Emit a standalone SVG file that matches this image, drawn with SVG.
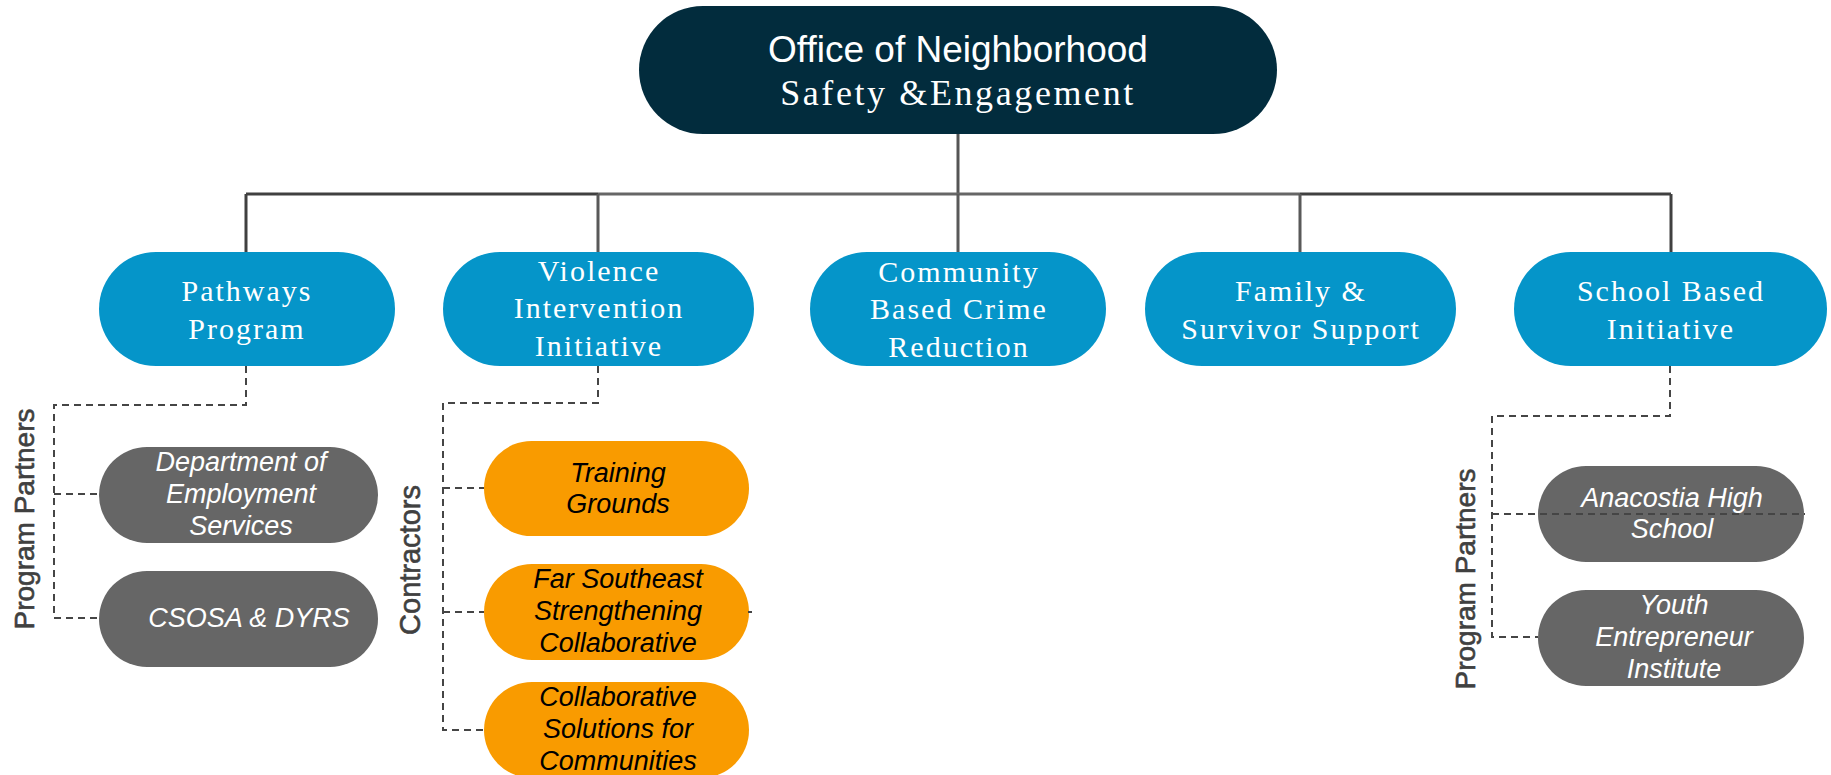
<svg xmlns="http://www.w3.org/2000/svg" width="1831" height="775" viewBox="0 0 1831 775">
<style>
.top{fill:#022C3D}
.blue{fill:#0595C9}
.gray{fill:#666666}
.orange{fill:#F99B00}
.t1{font-family:"Liberation Sans",Arial,sans-serif;font-size:37px;fill:#fff;text-anchor:middle}
.t2{font-family:"Liberation Serif","Times New Roman",serif;font-size:36px;fill:#fff;text-anchor:middle;letter-spacing:2.6px}
.bt{font-family:"Liberation Serif","Times New Roman",serif;font-size:30px;fill:#fff;text-anchor:middle;letter-spacing:2px}
.gt{font-family:"Liberation Sans",Arial,sans-serif;font-size:27px;font-style:italic;fill:#fff;text-anchor:middle}
.ot{font-family:"Liberation Sans",Arial,sans-serif;font-size:27px;font-style:italic;fill:#000;text-anchor:middle}
.lbl{font-family:"Liberation Sans",Arial,sans-serif;font-size:28px;fill:#404040;stroke:#404040;stroke-width:0.6px;text-anchor:middle}
.dash{fill:none;stroke:#454545;stroke-width:2;stroke-dasharray:7 5}
.solid{fill:none;stroke-width:3}
</style>
<rect width="1831" height="775" fill="#fff"/>

<g id="node-office">
<rect class="top" x="639" y="6" width="638" height="128" rx="64"/>
<text class="t1" x="958" y="62">Office of Neighborhood</text>
<text class="t2" x="958" y="105">Safety &amp;Engagement</text>
</g>

<g id="node-pathways">
<rect class="blue" x="99" y="252" width="296" height="114" rx="57"/>
<text class="bt" x="247" y="301">Pathways</text>
<text class="bt" x="247" y="339">Program</text>
</g>
<g id="node-violence">
<rect class="blue" x="443" y="252" width="311" height="114" rx="57"/>
<text class="bt" x="599" y="281">Violence</text>
<text class="bt" x="599" y="318">Intervention</text>
<text class="bt" x="599" y="356">Initiative</text>
</g>
<g id="node-community">
<rect class="blue" x="810" y="252" width="296" height="114" rx="57"/>
<text class="bt" x="959" y="282">Community</text>
<text class="bt" x="959" y="319">Based Crime</text>
<text class="bt" x="959" y="357">Reduction</text>
</g>
<g id="node-family">
<rect class="blue" x="1145" y="252" width="311" height="114" rx="57"/>
<text class="bt" x="1301" y="301">Family &amp;</text>
<text class="bt" x="1301" y="339">Survivor Support</text>
</g>
<g id="node-school">
<rect class="blue" x="1514" y="252" width="313" height="114" rx="57"/>
<text class="bt" x="1671" y="301">School Based</text>
<text class="bt" x="1671" y="339">Initiative</text>
</g>

<g id="label-partners-left">
<text class="lbl" transform="translate(34,519) rotate(-90)">Program Partners</text>
</g>
<g id="node-des">
<rect class="gray" x="99" y="447" width="279" height="96" rx="48"/>
<text class="gt" x="241" y="471">Department of</text>
<text class="gt" x="241" y="503">Employment</text>
<text class="gt" x="241" y="535">Services</text>
</g>
<g id="node-csosa">
<rect class="gray" x="99" y="571" width="279" height="96" rx="48"/>
<text class="gt" x="249" y="627">CSOSA &amp; DYRS</text>
</g>

<g id="label-contractors">
<text class="lbl" style="font-size:29px" transform="translate(420,560) rotate(-90)">Contractors</text>
</g>
<g id="node-training">
<rect class="orange" x="484" y="441" width="265" height="95" rx="47.5"/>
<text class="ot" x="618" y="482">Training</text>
<text class="ot" x="618" y="513">Grounds</text>
</g>
<g id="node-farse">
<rect class="orange" x="484" y="564" width="265" height="96" rx="48"/>
<text class="ot" x="618" y="588">Far Southeast</text>
<text class="ot" x="618" y="620">Strengthening</text>
<text class="ot" x="618" y="652">Collaborative</text>
</g>
<g id="node-collab">
<rect class="orange" x="484" y="682" width="265" height="96" rx="48"/>
<text class="ot" x="618" y="706">Collaborative</text>
<text class="ot" x="618" y="738">Solutions for</text>
<text class="ot" x="618" y="770">Communities</text>
</g>

<g id="label-partners-right">
<text class="lbl" transform="translate(1475,579) rotate(-90)">Program Partners</text>
</g>
<g id="node-anacostia">
<rect class="gray" x="1538" y="466" width="266" height="96" rx="48"/>
<text class="gt" x="1672" y="507">Anacostia High</text>
<text class="gt" x="1672" y="538">School</text>
</g>
<g id="node-youth">
<rect class="gray" x="1538" y="590" width="266" height="96" rx="48"/>
<text class="gt" x="1674" y="614">Youth</text>
<text class="gt" x="1674" y="646">Entrepreneur</text>
<text class="gt" x="1674" y="678">Institute</text>
</g>

<g id="connectors">
<path class="solid" stroke="#555" stroke-width="4" d="M958 134 V194"/>
<path class="solid" stroke="#404040" stroke-width="4" d="M246 194 H598 M1300 194 H1671"/>
<path class="solid" stroke="#666" stroke-width="4" d="M598 194 H1300"/>
<path class="solid" stroke="#404040" d="M246 194 V252 M1671 194 V252"/>
<path class="solid" stroke="#595959" d="M598 194 V252 M958 194 V252 M1300 194 V252"/>
<path class="dash" d="M246 366 V405 H54 V618 H99 M54 494 H99"/>
<path class="dash" d="M598 366 V403 H443 V730 H484 M443 488 H484 M443 612 H484 M748 612 H752"/>
<path class="dash" d="M1670 366 V416 H1492 V637 H1538 M1492 514 H1805"/>
</g>
</svg>
